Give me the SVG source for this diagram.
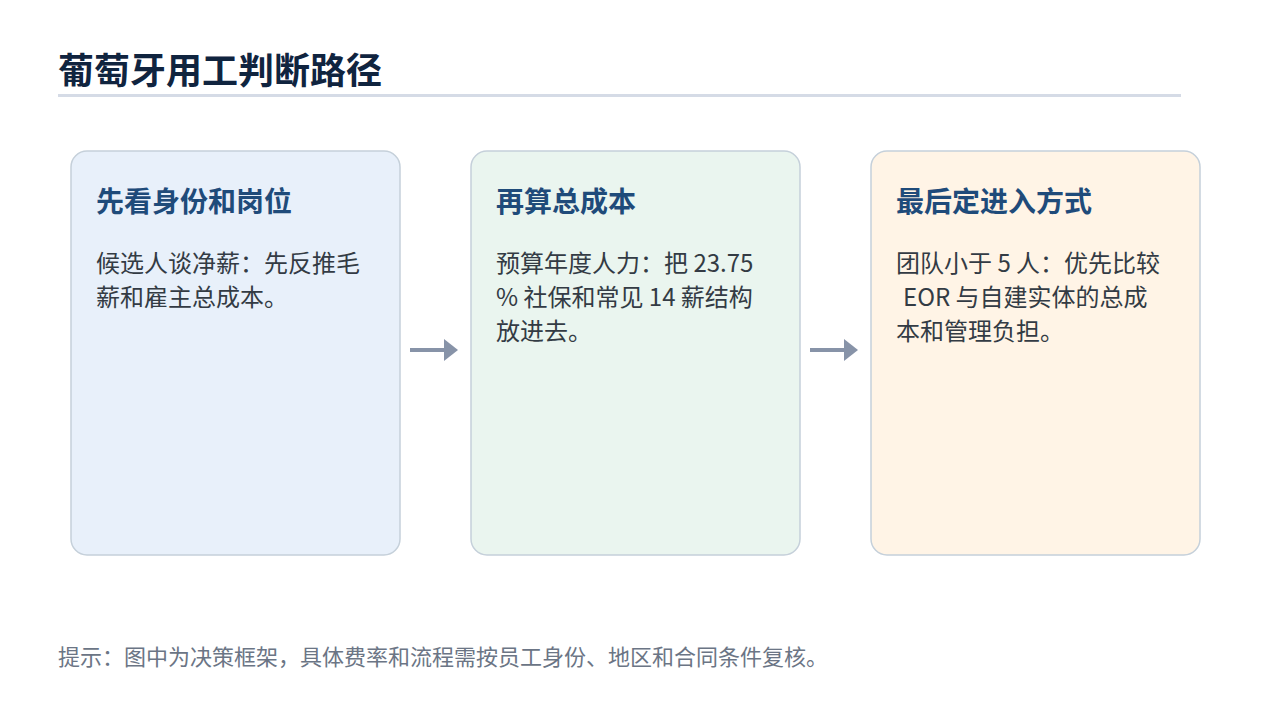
<svg xmlns="http://www.w3.org/2000/svg" width="1280" height="720" viewBox="0 0 1280 720">
<style>
text{font-family:"Noto Sans CJK SC","Noto Sans",sans-serif}
.h{font-size:36px;font-weight:bold;fill:#10243f}
.t{font-size:28px;font-weight:bold;fill:#1f4b7a}
.b{font-size:24px;fill:#333b44}
.f{font-size:22px;fill:#6b7585}
.box{stroke:#c5d0da;stroke-width:1.5}
.c line{stroke:#8793a8;stroke-width:4}
.c polygon{fill:#8793a8}
</style>
<rect width="1280" height="720" fill="#fff"/>
<text class="h" x="58" y="84">葡萄牙用工判断路径</text>
<rect x="58" y="94" width="1123" height="3" fill="#d5dbe6"/>
<g id="n1"><rect class="box" x="71" y="151" width="329" height="404" rx="16" fill="#e8f0fa"/>
<text class="t" x="96" y="212">先看身份和岗位</text>
<text class="b" x="96" y="272">候选人谈净薪：先反推毛</text>
<text class="b" x="96" y="306">薪和雇主总成本。</text></g>
<g id="n2"><rect class="box" x="471" y="151" width="329" height="404" rx="16" fill="#eaf5ef"/>
<text class="t" x="496" y="212">再算总成本</text>
<text class="b" x="496" y="272">预算年度人力：把 23.75</text>
<text class="b" x="496" y="306">% 社保和常见 14 薪结构</text>
<text class="b" x="496" y="340">放进去。</text></g>
<g id="n3"><rect class="box" x="871" y="151" width="329" height="404" rx="16" fill="#fff4e6"/>
<text class="t" x="896" y="212">最后定进入方式</text>
<text class="b" x="896" y="272">团队小于 5 人：优先比较</text>
<text class="b" x="903" y="306">EOR 与自建实体的总成</text>
<text class="b" x="896" y="340">本和管理负担。</text></g>
<g id="connectors" class="c">
<line x1="410" y1="350" x2="446" y2="350"/><polygon points="444,339 458,350 444,361"/>
<line x1="810" y1="350" x2="846" y2="350"/><polygon points="844,339 858,350 844,361"/>
</g>
<text class="f" x="58" y="665">提示：图中为决策框架，具体费率和流程需按员工身份、地区和合同条件复核。</text>
</svg>
